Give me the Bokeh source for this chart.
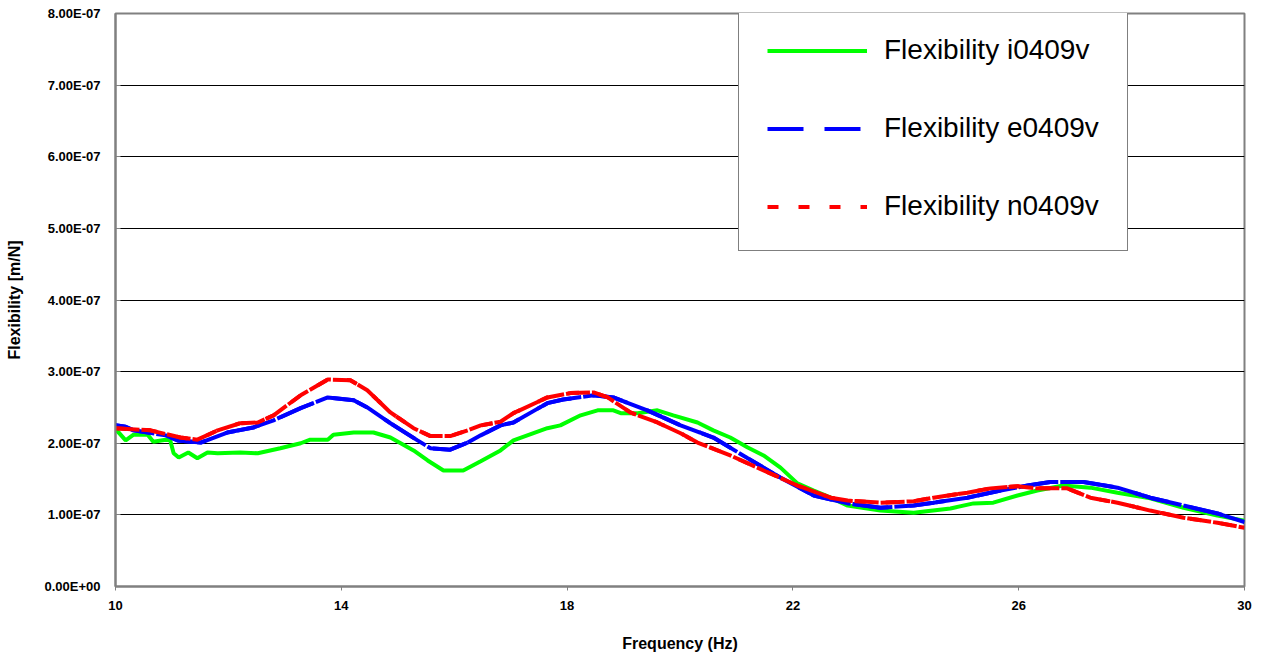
import numpy as np
from bokeh.plotting import figure
from bokeh.models import Legend, LegendItem, FixedTicker, Range1d
from bokeh.embed import file_html
from bokeh.resources import INLINE

SCALE = 1e-7

freq_i = [10.00, 10.18, 10.32, 10.57, 10.67, 10.89, 10.97, 11.03, 11.12, 11.29, 11.45, 11.63, 11.81,
          12.21, 12.52, 12.92, 13.28, 13.45, 13.76, 13.86, 14.22, 14.57, 14.87, 15.28, 15.53, 15.81,
          16.16, 16.47, 16.82, 17.05, 17.65, 17.88, 18.24, 18.54, 18.82, 18.95, 19.25, 19.60, 19.88,
          20.31, 20.59, 20.89, 21.20, 21.48, 21.78, 22.08, 22.37, 22.67, 22.97, 23.55, 24.14, 24.79,
          25.20, 25.55, 25.98, 26.33, 26.79, 27.27, 27.75, 28.33, 28.92, 29.52, 30.00]
flex_i = [2.20, 2.04, 2.12, 2.12, 2.02, 2.05, 2.04, 1.86, 1.80, 1.87, 1.79, 1.87, 1.86,
          1.87, 1.86, 1.93, 2.00, 2.05, 2.05, 2.12, 2.15, 2.15, 2.08, 1.90, 1.76, 1.62,
          1.62, 1.75, 1.90, 2.04, 2.21, 2.25, 2.39, 2.46, 2.46, 2.42, 2.42, 2.46, 2.39,
          2.29, 2.18, 2.08, 1.94, 1.83, 1.66, 1.44, 1.34, 1.24, 1.13, 1.06, 1.03, 1.09,
          1.16, 1.17, 1.27, 1.34, 1.41, 1.38, 1.31, 1.23, 1.10, 0.99, 0.92]

freq_e = [10.00, 10.18, 10.32, 10.89, 11.10, 11.51, 11.98, 12.44, 12.80, 13.28, 13.76, 14.22, 14.46,
          14.87, 15.35, 15.58, 15.93, 16.24, 16.47, 16.82, 17.05, 17.65, 17.93, 18.47, 18.82, 19.42,
          20.01, 20.59, 21.20, 21.78, 22.37, 22.97, 23.55, 24.14, 24.49, 25.09, 25.68, 26.16, 26.56,
          27.15, 27.75, 28.33, 28.92, 29.52, 30.00]
flex_e = [2.25, 2.23, 2.18, 2.11, 2.04, 2.01, 2.15, 2.22, 2.32, 2.49, 2.64, 2.60, 2.50,
          2.28, 2.04, 1.93, 1.91, 2.01, 2.11, 2.25, 2.29, 2.56, 2.61, 2.67, 2.64, 2.46,
          2.25, 2.08, 1.79, 1.52, 1.27, 1.16, 1.10, 1.13, 1.17, 1.24, 1.34, 1.41, 1.46,
          1.46, 1.38, 1.24, 1.13, 1.02, 0.90]

freq_n = [10.00, 10.62, 11.15, 11.45, 11.81, 12.21, 12.52, 12.80, 13.28, 13.76, 14.16, 14.46, 14.87,
          15.28, 15.58, 15.93, 16.24, 16.47, 16.82, 17.05, 17.65, 18.06, 18.47, 18.72, 19.12, 19.60,
          20.01, 20.31, 20.89, 21.48, 22.08, 22.67, 22.97, 23.55, 24.14, 24.49, 25.09, 25.50, 25.98,
          26.33, 26.86, 27.27, 27.75, 28.33, 28.92, 29.52, 30.00]
flex_n = [2.21, 2.18, 2.08, 2.05, 2.18, 2.28, 2.29, 2.39, 2.67, 2.89, 2.88, 2.74, 2.43,
          2.21, 2.10, 2.10, 2.18, 2.25, 2.30, 2.42, 2.64, 2.70, 2.71, 2.64, 2.43, 2.29,
          2.14, 2.01, 1.83, 1.62, 1.41, 1.24, 1.20, 1.17, 1.19, 1.24, 1.31, 1.37, 1.40,
          1.37, 1.37, 1.24, 1.17, 1.06, 0.96, 0.89, 0.82]

series_names = ["Flexibility i0409v", "Flexibility e0409v", "Flexibility n0409v"]
x_ticks = [10, 14, 18, 22, 26, 30]
y_ticks = [0, 1, 2, 3, 4, 5, 6, 7, 8]
y_tick_labels = ["0.00E+00", "1.00E-07", "2.00E-07", "3.00E-07", "4.00E-07",
                 "5.00E-07", "6.00E-07", "7.00E-07", "8.00E-07"]

FONT = "Liberation Sans"

p = figure(width=1266, height=660, output_backend="svg", toolbar_location=None,
           x_range=Range1d(10, 30), y_range=Range1d(0, 8 * SCALE))
p.min_border_left = 115
p.min_border_right = 22
p.min_border_top = 13
p.min_border_bottom = 74
p.background_fill_color = "white"
p.border_fill_color = "white"
p.outline_line_color = "#808080"
p.outline_line_width = 2

p.xgrid.visible = False
p.ygrid.grid_line_color = "black"
p.ygrid.grid_line_width = 1
p.ygrid.ticker = FixedTicker(ticks=[v * SCALE for v in y_ticks])

# axes
p.xaxis.ticker = FixedTicker(ticks=x_ticks)
p.xaxis.axis_line_color = "#808080"
p.xaxis.axis_line_width = 2
p.xaxis.major_tick_out = 4
p.xaxis.major_tick_in = 0
p.xaxis.minor_tick_line_color = None
p.xaxis.major_tick_line_color = "#808080"
p.xaxis.major_label_standoff = 10
p.xaxis.major_label_text_font = FONT
p.xaxis.major_label_text_font_style = "bold"
p.xaxis.major_label_text_font_size = "13px"
p.xaxis.major_label_text_color = "black"
p.xaxis.axis_label = "Frequency (Hz)"
p.xaxis.axis_label_text_font = FONT
p.xaxis.axis_label_text_font_style = "bold"
p.xaxis.axis_label_text_font_size = "16px"
p.xaxis.axis_label_text_color = "black"
p.xaxis.axis_label_standoff = 22

p.yaxis.ticker = FixedTicker(ticks=[v * SCALE for v in y_ticks])
p.yaxis.major_label_overrides = {v * SCALE: lab for v, lab in zip(y_ticks, y_tick_labels)}
p.yaxis.axis_line_color = "#808080"
p.yaxis.axis_line_width = 2
p.yaxis.major_tick_in = 5
p.yaxis.major_tick_out = 0
p.yaxis.major_tick_line_color = "#808080"
p.yaxis.minor_tick_line_color = None
p.yaxis.major_label_standoff = 15
p.yaxis.major_label_text_font = FONT
p.yaxis.major_label_text_font_style = "bold"
p.yaxis.major_label_text_font_size = "13px"
p.yaxis.major_label_text_color = "black"
p.yaxis.axis_label = "Flexibility [m/N]"
p.yaxis.axis_label_text_font = FONT
p.yaxis.axis_label_text_font_style = "bold"
p.yaxis.axis_label_text_font_size = "16px"
p.yaxis.axis_label_text_color = "black"
p.yaxis.axis_label_standoff = 18

xs_e = freq_e
ys_e = [v * SCALE for v in flex_e]
xs_n = freq_n
ys_n = [v * SCALE for v in flex_n]

# green solid series
r_i = p.line(freq_i, [v * SCALE for v in flex_i], line_color="#00FF00", line_width=4)
# legend-sample renderers (Excel dash styles), drawn underneath the plotted traces
lg_e = p.line(xs_e, ys_e, line_color="#0000FF", line_width=4, line_dash="36 21")
p.line(xs_e, ys_e, line_color="#0000FF", line_width=4, line_dash="40 2")
lg_n = p.line(xs_n, ys_n, line_color="#FF0000", line_width=4, line_dash="11 20")
p.line(xs_n, ys_n, line_color="#FF0000", line_width=4, line_dash="24 2")

legend = Legend(items=[LegendItem(label=series_names[0], renderers=[r_i]),
                       LegendItem(label=series_names[1], renderers=[lg_e]),
                       LegendItem(label=series_names[2], renderers=[lg_n])],
                location=(623, 335))
legend.padding = 28
legend.spacing = 46
legend.label_height = 31
legend.glyph_height = 31
legend.glyph_width = 100
legend.label_standoff = 17
legend.label_text_font = FONT
legend.label_text_font_size = "28px"
legend.label_text_color = "black"
legend.border_line_color = "black"
legend.border_line_width = 1
legend.background_fill_color = "white"
legend.background_fill_alpha = 1.0
p.add_layout(legend, "center")

open("out.html", "w").write(file_html(p, INLINE))
